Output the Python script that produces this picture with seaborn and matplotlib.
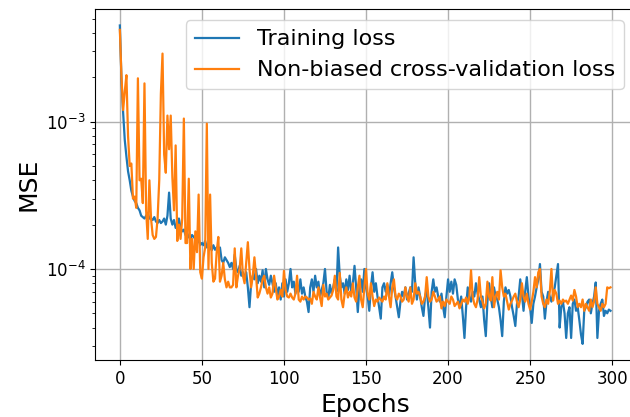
import numpy as np
import pandas as pd
import matplotlib
matplotlib.use("Agg")
import matplotlib.pyplot as plt
import seaborn as sns

# Values in units of 1e-5 (MSE)
train_loss_e5 = [
    450, 190, 115, 75, 58, 46, 40, 34, 31, 29,
    28, 26, 25, 23, 22.5, 22, 23, 24, 22, 22,
    21.5, 22.5, 21, 20.5, 21.5, 20.5, 21, 22, 20, 23,
    33, 22, 20, 21.5, 19, 19.5, 22, 19, 18, 18.5,
    17, 17.5, 16.5, 16, 17, 16.5, 16, 15, 16, 14.5,
    15, 14.5, 15.5, 14, 15, 14, 13.4, 14.5, 13.5, 14,
    13, 14, 11.5, 11, 12, 11.5, 11, 10.3, 11, 10,
    12.5, 10, 9.5, 10.5, 9, 9.5, 8.5, 9.5, 7.5, 5.5,
    8, 9, 8.5, 10, 8, 9, 8.2, 9.8, 7.5, 10,
    8.5, 7.8, 9, 8, 7, 8, 6.5, 7.5, 6.2, 8,
    6.5, 8.5, 7, 8, 10, 7.5, 8.2, 6.8, 7.8, 7,
    8.5, 6.8, 7.5, 6.5, 6, 5.1, 7.5, 8.5, 7, 9,
    7.5, 8.2, 6.5, 7.2, 8, 10, 7, 6.3, 7.8, 6.8,
    7.5, 8.5, 7, 14, 9, 7.5, 8, 6.8, 8.5, 7.2,
    9, 7, 8, 10.5, 7.5, 5.1, 7.5, 8.5, 7, 10,
    7.5, 6.5, 5.2, 7.5, 9.5, 7, 8, 6.5, 5.5, 4.6,
    7.5, 8, 7, 7.8, 6.5, 8, 9.5, 7.5, 6.5, 5.5,
    4.7, 6, 7, 6.5, 7.5, 6.2, 6.8, 7.5, 7, 12,
    8, 6.2, 7.5, 6.5, 5.5, 4.8, 6.5, 7.2, 5.5, 4,
    7, 8.5, 7, 7.5, 6.5, 6, 6.8, 5.5, 4.7, 6.5,
    8.5, 7, 8.2, 6.8, 8.5, 7.8, 6.2, 5.5, 6.5, 4.8,
    3.4, 5.5, 7.5, 6.5, 6, 7, 6.5, 8, 6.8, 6.2,
    5.5, 6.5, 4.5, 3.5, 6, 8, 6.5, 5.5, 7.5, 6.5,
    6.2, 5.5, 4.5, 3.5, 6, 7.5, 6.8, 7.2, 6.5, 5.5,
    4.8, 4.1, 5.8, 6.5, 8.5, 6.8, 5.2, 7, 8.8, 6.5,
    5.5, 4.3, 5.8, 6.5, 7.5, 8.5, 10.8, 7, 6.5, 4.6,
    6, 7, 6.5, 6, 6.8, 7.5, 9, 10.8, 4, 5.5,
    6, 5, 3.4, 5, 5.5, 3.4, 5.8, 6.2, 5.2, 5.5,
    4.5, 3.6, 3.1, 5.2, 5.5, 6, 6.2, 5, 5.8, 6.5,
    8.1, 3.4, 5.2, 5.8, 6.2, 4.8, 5.2, 5, 5.3, 5.2,
]

val_loss_e5 = [
    420, 200, 120, 160, 207, 80, 50, 52, 30, 31,
    26, 197, 40, 41, 28, 182, 25, 16, 40, 22,
    17, 16, 16.5, 22, 40, 155, 290, 60, 45, 110,
    65, 110, 42, 25, 69, 15.5, 20, 16, 22, 105,
    15, 15, 41, 10, 16, 10, 18, 13, 32, 9.5,
    8.6, 12, 14, 97, 10, 32, 11, 8.2, 8.6, 13,
    16.5, 8.2, 9, 11, 8.5, 7.5, 8.2, 7.5, 7.5, 7.8,
    13.8, 7.5, 9, 10, 13.8, 9, 8, 11, 15.2, 10,
    7.5, 9, 12, 9, 6.4, 6.8, 7.5, 8.5, 9, 7.5,
    6.8, 7.5, 6.4, 6.8, 9, 7.5, 6.2, 6.5, 7.2, 6.5,
    9.7, 7.2, 6.5, 6.4, 6.8, 6.4, 6.2, 6.8, 9, 6.2,
    6, 6.5, 6.2, 6.5, 6.4, 6.2, 6.3, 5.8, 7, 6.5,
    6.2, 7.5, 6.4, 5.6, 7.8, 6.5, 6.8, 6.2, 6.4, 6.6,
    7.2, 9, 6.5, 6.2, 9.4, 6.2, 5.5, 6.8, 7.5, 6.4,
    7, 6.5, 8, 6.4, 6, 7.5, 9, 6.2, 5.5, 7.5,
    10, 6.8, 6.2, 8, 6.5, 5.6, 6.2, 6, 6.4, 6.2,
    6, 6.5, 6.2, 8, 6.5, 5.5, 7.5, 8.5, 6.5, 6.2,
    6.8, 6.5, 6, 6.2, 7.5, 6.5, 6, 7.5, 5.8, 6.2,
    8, 6.8, 7, 6.5, 5.8, 6, 6.5, 8.8, 6.5, 6,
    6.2, 7, 6.5, 6, 6.2, 6.5, 5.4, 6, 5.6, 6.2,
    6, 5.8, 6.5, 6.2, 5.6, 5.8, 6, 5.4, 5.8, 6.2,
    6, 6.4, 5.8, 6.5, 9.8, 6.5, 5.8, 5.5, 6.2, 8.8,
    6.5, 6, 5.4, 5.8, 8.2, 6.5, 6.1, 8.8, 5.5, 6.5,
    7, 6.2, 9.8, 7.5, 6.5, 6.8, 6, 5.3, 5.8, 6.1,
    6.5, 6.8, 6, 5.5, 6.2, 8, 6.5, 6, 6.8, 5.8,
    5.3, 6, 7, 8.8, 7.5, 9.5, 10, 6.5, 5.8, 5.5,
    6.2, 5.8, 7, 10, 6.1, 7.2, 6.8, 5.8, 6.1, 5.8,
    6.2, 6, 6.1, 5.8, 6.2, 6.6, 6.1, 7.2, 6.5, 5.5,
    5.8, 5.5, 6.2, 5.2, 5.8, 5.5, 5.2, 6.2, 5.5, 6,
    7.5, 5.8, 5.5, 5.2, 5.8, 5.5, 5.8, 7.5, 7.4, 7.5,
]

series_labels = ["Training loss", "Non-biased cross-validation loss"]
xticks = [0, 50, 100, 150, 200, 250, 300]

epochs = np.arange(len(train_loss_e5))
train = np.array(train_loss_e5) * 1e-5
val = np.array(val_loss_e5) * 1e-5

fig = plt.figure(figsize=(6.3, 4.17), dpi=100)
ax = fig.add_axes([0.1513, 0.1367, 1.008 - 0.1513, 0.9777 - 0.1367])

sns.lineplot(x=epochs, y=train, ax=ax, color="#1f77b4", linewidth=1.6,
             label=series_labels[0])
sns.lineplot(x=epochs, y=val, ax=ax, color="#ff7f0e", linewidth=1.6,
             label=series_labels[1])

ax.set_yscale("log")
ax.set_xlim(-14.95, 313.95)
ax.set_ylim(10 ** -4.618, 10 ** -2.237)
ax.set_xticks(xticks)
ax.grid(True, which="major", color="#b0b0b0", linewidth=1.0)
ax.set_axisbelow(True)
ax.tick_params(labelsize=12)
ax.set_xlabel("Epochs", fontsize=18)
ax.set_ylabel("MSE", fontsize=18)
ax.legend(loc="upper right", fontsize=16)

fig.savefig("out.png", dpi=100)
